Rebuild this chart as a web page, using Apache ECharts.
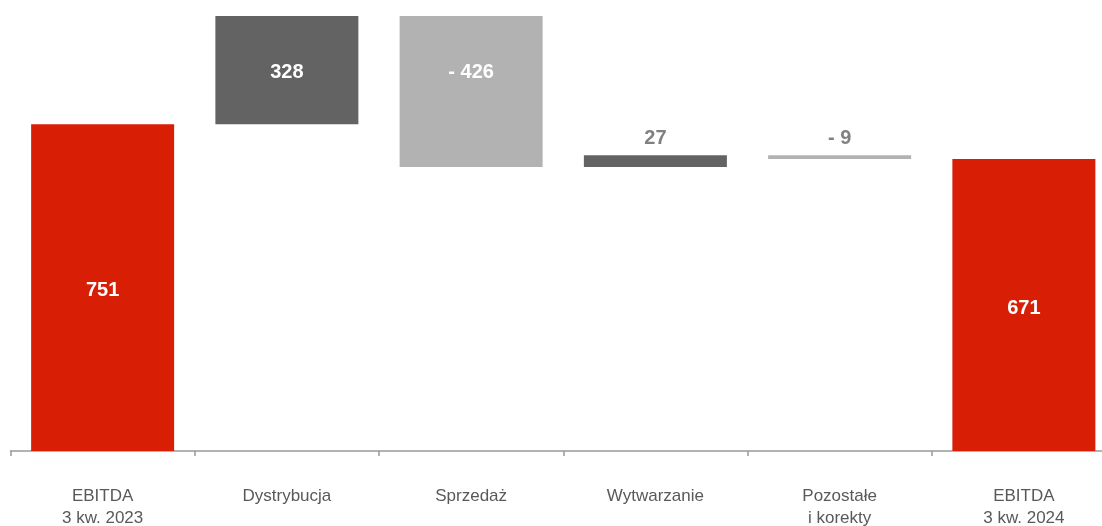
<!DOCTYPE html>
<html>
<head>
<meta charset="utf-8">
<script src="https://cdn.jsdelivr.net/npm/echarts@6/dist/echarts.min.js"></script>
<style>
html,body{margin:0;padding:0;background:#fff;}
#c{width:1102px;height:526px;}
</style>
</head>
<body>
<div id="c"></div>
<script>
const categories = ['EBITDA\n3 kw. 2023', 'Dystrybucja', 'Sprzedaż', 'Wytwarzanie', 'Pozostałe\ni korekty', 'EBITDA\n3 kw. 2024'];
const values = [751, 328, -426, 27, -9, 671];
const kinds = ['total', 'delta', 'delta', 'delta', 'delta', 'total'];
const valueLabels = ['751', '328', '- 426', '27', '- 9', '671'];
const yMax = 1000;

const COLORS = { total: '#D81E05', up: '#636363', down: '#B2B2B2' };
const FONT = "'Liberation Sans Narrow','Arial Narrow','Liberation Sans',Arial,sans-serif";

let running = 0;
const baseData = [], visData = [];
values.forEach((v, i) => {
  let lo, hi, color;
  if (kinds[i] === 'total') {
    lo = 0; hi = v; running = v; color = COLORS.total;
  } else {
    const s = running, e = running + v;
    lo = Math.min(s, e); hi = Math.max(s, e); running = e;
    color = v >= 0 ? COLORS.up : COLORS.down;
  }
  const visHi = Math.min(hi, yMax);
  const big = (hi - lo) > 100;
  baseData.push(lo);
  const item = {
    value: visHi - lo,
    itemStyle: { color: color },
    label: big ? {
      show: true, position: 'inside', color: '#ffffff', fontSize: 20, fontWeight: 'bold',
      fontFamily: FONT, formatter: valueLabels[i],
      offset: (hi > yMax && visHi - lo > 300) ? [0, -19] : (hi > yMax ? [0, 2] : [0, 3])
    } : {
      show: true, position: 'top', distance: 7, color: '#808080', fontSize: 20, fontWeight: 'bold',
      fontFamily: FONT, formatter: valueLabels[i]
    }
  };
  visData.push(item);
});

const chart = echarts.init(document.getElementById('c'), null, { renderer: 'canvas' });
chart.setOption({
  animation: false,
  grid: { left: 10.5, width: 1105.5, top: 16, bottom: 75, containLabel: false, outerBoundsMode: 'none' },
  xAxis: {
    type: 'category',
    data: categories,
    axisLine: { lineStyle: { color: '#999999', width: 1.5 } },
    axisTick: { show: true, length: 5, lineStyle: { color: '#999999', width: 1.5 } },
    axisLabel: { color: '#595959', fontSize: 17, lineHeight: 22, margin: 34, fontFamily: FONT, interval: 0 }
  },
  yAxis: { type: 'value', min: 0, max: yMax, show: false, splitLine: { show: false } },
  series: [
    { type: 'bar', stack: 'w', data: baseData, barWidth: 143, itemStyle: { color: 'transparent' }, silent: true },
    { type: 'bar', stack: 'w', data: visData, barWidth: 143 }
  ]
});
</script>
</body>
</html>
